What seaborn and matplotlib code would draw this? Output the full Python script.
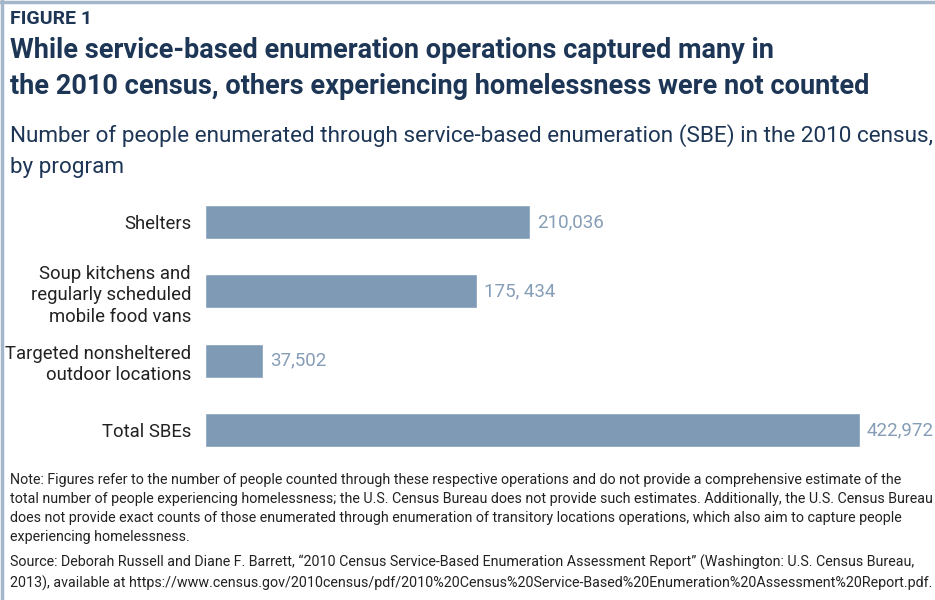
import matplotlib
matplotlib.use("Agg")
import matplotlib.pyplot as plt
from matplotlib.lines import Line2D
import seaborn as sns
import pandas as pd

# data
programs = [
    "Shelters",
    "Soup kitchens and\nregularly scheduled\nmobile food vans",
    "Targeted nonsheltered\noutdoor locations",
    "Total SBEs",
]
people = [210036, 175434, 37502, 422972]
value_labels = ["210,036", "175, 434", "37,502", "422,972"]

df = pd.DataFrame({"program": programs, "people": people})

sns.set_theme(style="white")
plt.rcParams["font.family"] = ["Roboto", "DejaVu Sans"]

navy = "#1d3656"
bar_col = "#7f9ab5"
lab_col = "#869db7"
txt_col = "#222222"

fig = plt.figure(figsize=(9.35, 6), dpi=100)
ax = fig.add_axes([205 / 935, 1 - 447 / 600, 655 / 935, 242 / 600])

sns.barplot(data=df, x="people", y="program", color=bar_col, width=0.49,
            saturation=1, ax=ax)
ax.set_xlim(0, max(people))
ax.set_ylim(3.245, -0.245)
ax.set_xlabel("")
ax.set_ylabel("")
ax.set_xticks([])
ax.tick_params(axis="y", length=0, pad=10, labelsize=13.3, labelcolor=txt_col)
for lbl in ax.get_yticklabels():
    lbl.set_linespacing(1.25)
for s in ax.spines.values():
    s.set_visible(False)

for i, (v, t) in enumerate(zip(people, value_labels)):
    ax.text(v + 4500, i, t, va="center", ha="left", fontsize=13.5,
            color=lab_col, clip_on=False)

# headings
fig.text(10 / 935, 1 - 19 / 600, "FIGURE 1", fontsize=14, fontweight="bold",
         color=navy, va="center")
fig.text(10 / 935, 1 - 50 / 600,
         "While service-based enumeration operations captured many in",
         fontsize=19.5, fontweight="bold", color=navy, va="center")
fig.text(10 / 935, 1 - 87 / 600,
         "the 2010 census, others experiencing homelessness were not counted",
         fontsize=19.5, fontweight="bold", color=navy, va="center")
fig.text(10 / 935, 1 - 136 / 600,
         "Number of people enumerated through service-based enumeration (SBE) in the 2010 census,",
         fontsize=16.2, color=navy, va="center")
fig.text(10 / 935, 1 - 168 / 600, "by program",
         fontsize=16.2, color=navy, va="center")

note = ("Note: Figures refer to the number of people counted through these respective operations and do not provide a comprehensive estimate of the\n"
        "total number of people experiencing homelessness; the U.S. Census Bureau does not provide such estimates. Additionally, the U.S. Census Bureau\n"
        "does not provide exact counts of those enumerated through enumeration of transitory locations operations, which also aim to capture people\n"
        "experiencing homelessness.")
source = ("Source: Deborah Russell and Diane F. Barrett, \u201c2010 Census Service-Based Enumeration Assessment Report\u201d (Washington: U.S. Census Bureau,\n"
          "2013), available at https://www.census.gov/2010census/pdf/2010%20Census%20Service-Based%20Enumeration%20Assessment%20Report.pdf.")
fig.text(10 / 935, 1 - 473 / 600, note, fontsize=10.3, color=txt_col,
         va="top", linespacing=1.45)
fig.text(10 / 935, 1 - 555 / 600, source, fontsize=10.3, color=txt_col,
         va="top", linespacing=1.45)

# frame lines at top and left
border = "#a3b6ca"
fig.add_artist(Line2D([0, 1], [1 - 2 / 600] * 2, color=border, lw=2.5,
                      transform=fig.transFigure))
fig.add_artist(Line2D([2 / 935] * 2, [0, 1], color=border, lw=2.5,
                      transform=fig.transFigure))

fig.savefig("out.png", dpi=100)
